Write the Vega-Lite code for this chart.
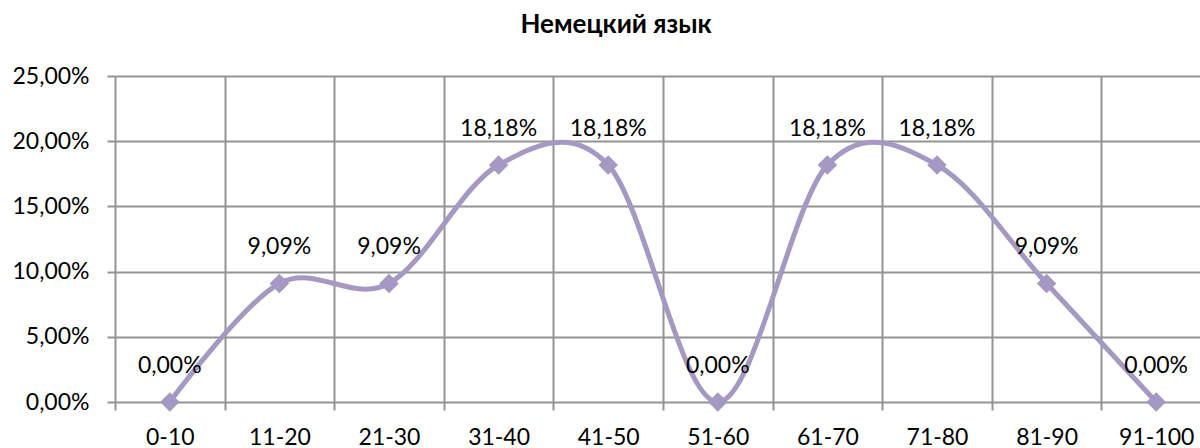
{
  "$schema": "https://vega.github.io/schema/vega-lite/v6.json",
  "autosize": {"type": "none"},
  "width": 1096,
  "height": 326,
  "padding": {"left": 115, "top": 76, "right": 0, "bottom": 46},
  "background": "white",
  "config": {
    "locale": {"number": {"decimal": ",", "thousands": " ", "grouping": [3], "currency": ["", " ₽"]}},
    "view": {"stroke": null},
    "font": "Lato"
  },
  "title": {
    "text": "Немецкий язык",
    "font": "Lato",
    "fontSize": 26,
    "fontWeight": "bold",
    "color": "#000000",
    "anchor": "middle",
    "frame": "group",
    "dx": -47,
    "baseline": "alphabetic",
    "offset": 6
  },
  "data": {
    "values": [
      {"range": "0-10", "share": 0.0},
      {"range": "11-20", "share": 0.0909},
      {"range": "21-30", "share": 0.0909},
      {"range": "31-40", "share": 0.1818},
      {"range": "41-50", "share": 0.1818},
      {"range": "51-60", "share": 0.0},
      {"range": "61-70", "share": 0.1818},
      {"range": "71-80", "share": 0.1818},
      {"range": "81-90", "share": 0.0909},
      {"range": "91-100", "share": 0.0}
    ]
  },
  "encoding": {
    "x": {
      "field": "range",
      "type": "ordinal",
      "sort": null,
      "scale": {"paddingInner": 0, "paddingOuter": 0},
      "axis": {
        "title": null,
        "labelAngle": 0,
        "labelFont": "Lato",
        "labelFontSize": 23,
        "labelColor": "#000000",
        "labelPadding": 16,
        "domain": false,
        "grid": true,
        "gridColor": "#939393",
        "gridWidth": 2,
        "bandPosition": 0,
        "ticks": true,
        "tickBand": "extent",
        "tickSize": 8,
        "tickColor": "#939393",
        "tickWidth": 2
      }
    },
    "y": {
      "field": "share",
      "type": "quantitative",
      "scale": {"domain": [0, 0.25], "nice": false, "zero": true},
      "axis": {
        "title": null,
        "values": [0, 0.05, 0.1, 0.15, 0.2, 0.25],
        "format": ".2%",
        "labelFont": "Lato",
        "labelFontSize": 23,
        "labelColor": "#000000",
        "labelPadding": 18,
        "domain": false,
        "grid": true,
        "gridColor": "#939393",
        "gridWidth": 2,
        "tickSize": 8,
        "tickColor": "#939393",
        "tickWidth": 2
      }
    }
  },
  "layer": [
    {
      "mark": {"type": "line", "interpolate": "cardinal", "tension": 0, "color": "#A598C2", "strokeWidth": 5}
    },
    {
      "mark": {"type": "point", "shape": "diamond", "size": 380, "filled": true, "color": "#A598C2", "opacity": 1}
    },
    {
      "mark": {"type": "text", "dy": -36, "baseline": "middle", "align": "center", "font": "Lato", "fontSize": 23, "color": "#000000"},
      "encoding": {"text": {"field": "share", "type": "quantitative", "format": ".2%"}}
    }
  ]
}
